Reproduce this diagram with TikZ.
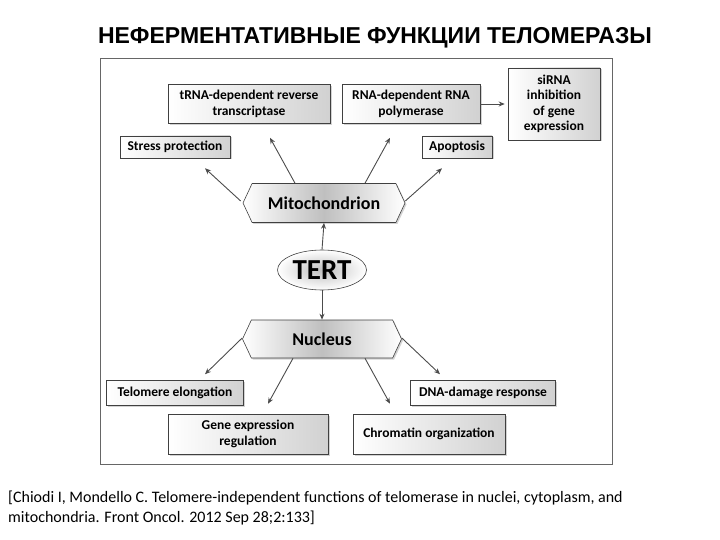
\documentclass[tikz,border=0pt]{standalone}
\usepackage{fontspec}
\setmainfont{Carlito}
\newfontfamily\titlefont{Liberation Sans}
\usetikzlibrary{shapes.geometric,shapes.symbols,shadows,calc,arrows.meta}
\begin{document}
\begin{tikzpicture}[x=1pt,y=-1pt,
  box/.style={draw=black!75,line width=0.6pt,left color=white,right color=black!18,drop shadow={shadow xshift=1.5pt,shadow yshift=-1.5pt,opacity=0.35},font=\bfseries\fontsize{13.5}{16}\selectfont,align=center,inner sep=2pt},
  hex/.style={draw=black!75,line width=0.6pt,shape=signal,signal to=east and west,signal pointer angle=130,left color=white,right color=white,middle color=black!25,drop shadow={shadow xshift=1.5pt,shadow yshift=-1.5pt,opacity=0.35},font=\bfseries\fontsize{18}{20}\selectfont,inner ysep=0pt},
  arr/.style={draw=black!70,line width=0.9pt,-{Stealth[length=6pt,width=5pt]}}]
\useasboundingbox (0,0) rectangle (720,540);
\node[font=\titlefont\bfseries\fontsize{23}{26}\selectfont] (title) at (375,38) {НЕФЕРМЕНТАТИВНЫЕ ФУНКЦИИ ТЕЛОМЕРАЗЫ};
\node[draw=black!60,line width=0.8pt,minimum width=512pt,minimum height=406pt,inner sep=0pt] (frame) at (356,261) {};
\node[box,minimum width=162pt,minimum height=39pt] (trna) at (249,104) {tRNA-dependent reverse\\transcriptase};
\node[box,minimum width=138pt,minimum height=39pt] (rdrp) at (411,104) {RNA-dependent RNA\\polymerase};
\node[box,minimum width=92pt,minimum height=72pt,font=\bfseries\fontsize{13.5}{15.5}\selectfont] (sirna) at (554,104) {siRNA\\inhibition\\of gene\\expression};
\node[box,minimum width=110pt,minimum height=22pt] (stress) at (175,147) {Stress protection};
\node[box,minimum width=70pt,minimum height=22pt] (apo) at (457,147) {Apoptosis};
\node[hex,minimum width=162pt,minimum height=39pt] (mito) at (324,203) {Mitochondrion};
\node[draw=black!75,line width=0.6pt,ellipse,inner color=black!25,outer color=white,minimum width=89pt,minimum height=40pt,inner sep=0pt,font=\bfseries\fontsize{29}{30}\selectfont] (tert) at (322,270) {TERT};
\node[hex,minimum width=159pt,minimum height=38pt] (nuc) at (322,339) {Nucleus};
\node[box,minimum width=137pt,minimum height=25pt] (telo) at (175,393) {Telomere elongation};
\node[box,minimum width=145pt,minimum height=25pt] (dna) at (483,393) {DNA-damage response};
\node[box,minimum width=160pt,minimum height=40pt] (gene) at (248,434) {Gene expression\\regulation};
\node[box,minimum width=152pt,minimum height=40pt] (chrom) at (429,434) {Chromatin organization};
\node[anchor=north west,align=left,font=\fontsize{16}{20}\selectfont,inner sep=0pt] (cite) at (8,491) {[Chiodi I, Mondello C. Telomere-independent functions of telomerase in nuclei, cytoplasm, and\\mitochondria. Front Oncol. 2012 Sep 28;2:133]};
% arrows
\draw[arr] (tert.north) -- (mito.south);
\draw[arr] (tert.south) -- (nuc.north);
\draw[arr] ($(mito.west)+(-2,-2)$) -- ($(stress.south)+(30,10)$);
\draw[arr] ($(mito.north)+(-29,0)$) -- ($(trna.south)+(21,14)$);
\draw[arr] ($(mito.north)+(41,0)$) -- ($(rdrp.south)+(-21,14)$);
\draw[arr] ($(mito.east)+(0,-2)$) -- ($(apo.south)+(-15,10)$);
\draw[arr] (rdrp.east) -- ($(sirna.west)+(-3,0)$);
\draw[arr] ($(nuc.west)+(0,-1)$) -- ($(telo.north)+(30,-6)$);
\draw[arr] ($(nuc.south)+(-29,0)$) -- ($(gene.north)+(20,-10)$);
\draw[arr] ($(nuc.south)+(43,0)$) -- ($(chrom.north)+(-39,-10)$);
\draw[arr] ($(nuc.east)+(0,-1)$) -- ($(dna.north)+(-43,-6)$);
\end{tikzpicture}
\end{document}
